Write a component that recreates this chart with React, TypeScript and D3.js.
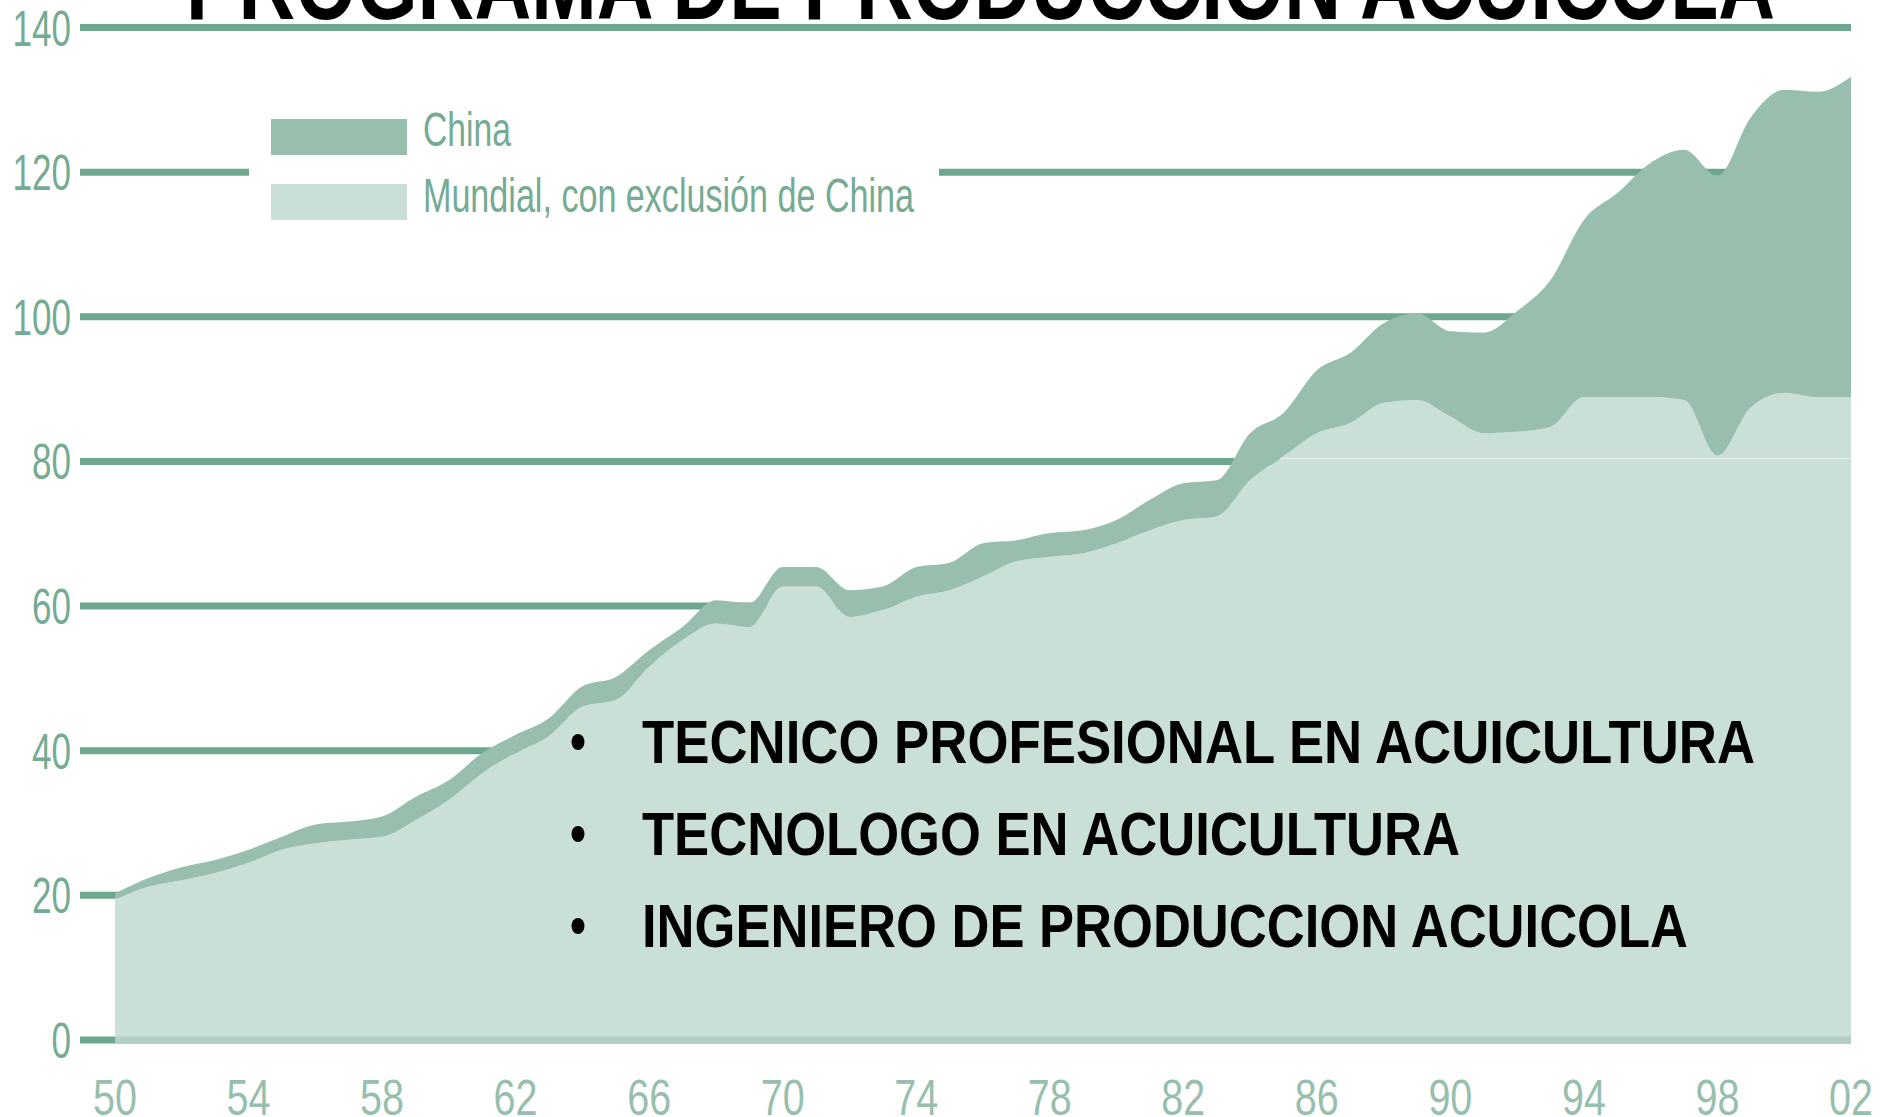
import React from 'react';
import * as d3 from 'd3';

const width = 1885, height = 1117;

// years of the series (1950 - 2002)
const years = [
  1950, 1951, 1952, 1953, 1954, 1955, 1956, 1957, 1958, 1959,
  1960, 1961, 1962, 1963, 1964, 1965, 1966, 1967, 1968, 1969,
  1970, 1971, 1972, 1973, 1974, 1975, 1976, 1977, 1978, 1979,
  1980, 1981, 1982, 1983, 1984, 1985, 1986, 1987, 1988, 1989,
  1990, 1991, 1992, 1993, 1994, 1995, 1996, 1997, 1998, 1999,
  2000, 2001, 2002
];

// world production excluding China
const mundial = [
  19.5, 21.2, 22.1, 23.1, 24.5, 26.3, 27.2, 27.7, 28.1, 30.4,
  33.2, 36.9, 39.7, 42.0, 46.1, 47.0, 51.6, 55.3, 57.6, 57.1,
  62.7, 62.7, 58.5, 59.5, 61.3, 62.2, 64.1, 66.2, 66.8, 67.3,
  68.7, 70.5, 71.9, 72.4, 77.4, 80.7, 83.9, 85.3, 88.1, 88.5,
  86.2, 83.9, 84.1, 84.8, 88.9, 88.9, 88.9, 88.5, 80.8, 87.5,
  89.5, 88.9, 88.9
];

// China, stacked on top
const china = [
  0.8, 1.2, 1.8, 1.8, 1.8, 1.8, 2.6, 2.5, 2.8, 3.2,
  2.7, 2.8, 2.5, 2.5, 2.8, 3.2, 2.3, 1.8, 3.2, 3.3,
  2.7, 2.7, 3.7, 3.2, 4.1, 3.8, 4.6, 2.9, 3.3, 3.2,
  3.2, 4.2, 5.1, 5.0, 6.5, 6.0, 8.7, 9.7, 11.0, 12.0,
  11.8, 13.9, 16.7, 20.3, 24.5, 28.2, 32.4, 34.6, 38.7, 40.1,
  41.9, 42.2, 44.3
];

const yTicks = [0, 20, 40, 60, 80, 100, 120, 140];
const xTickYears = [1950, 1954, 1958, 1962, 1966, 1970, 1974, 1978, 1982, 1986, 1990, 1994, 1998, 2002];
const xTickLabels = ['50', '54', '58', '62', '66', '70', '74', '78', '82', '86', '90', '94', '98', '02'];

const legendLabels = ['China', 'Mundial, con exclusión de China'];
const title = 'PROGRAMA DE PRODUCCION ACUICOLA';
const bullets = [
  'TECNICO PROFESIONAL EN ACUICULTURA',
  'TECNOLOGO EN ACUICULTURA',
  'INGENIERO DE PRODUCCION ACUICOLA'
];

const narrow = '"Liberation Sans Narrow", "Liberation Sans", Arial, sans-serif';
const grid = '#6da78d', darkFill = '#98bfad', lightFill = '#cadfd6';

export default function App() {
  const x = d3.scaleLinear().domain([1950, 2002]).range([115, 1851]);
  const y = d3.scaleLinear().domain([0, 140]).range([1040, 27.5]);

  const rows = years.map((yr, i) => ({ year: yr, mundial: mundial[i], china: china[i] }));
  const series = d3.stack<any>().keys(['mundial', 'china'])(rows);

  const area = d3.area<any>()
    .x(d => x(d.data.year))
    .y0(d => y(d[0]))
    .y1(d => y(d[1]))
    .curve(d3.curveMonotoneX);

  const fills = [lightFill, darkFill];
  const bulletWidths = [1113, 818, 1046];

  return (
    <svg width={width} height={height} viewBox={`0 0 ${width} ${height}`}
      style={{ position: 'absolute', left: 0, top: 0, display: 'block', background: '#fff' }}>
      <defs>
        <clipPath id="world-clip">
          <path d={area(series[0]) || ''} />
        </clipPath>
      </defs>

      {/* gridlines */}
      {yTicks.map(t => (
        <line key={t} x1={80} x2={1851} y1={y(t)} y2={y(t)} stroke={grid} strokeWidth={7} />
      ))}
      {/* gap in the 120 line for the legend */}
      <rect x={249} y={150} width={690} height={46} fill="#fff" />

      {/* stacked areas */}
      {series.map((s, i) => (
        <path key={s.key} d={area(s) || ''} fill={fills[i]} />
      ))}

      {/* axis strip at zero inside the area */}
      <rect x={x(1950)} y={y(0) - 3.5} width={x(2002) - x(1950)} height={7} fill="#b3cfc3" />
      {/* faint line of the 80 gridline seen through the light area */}
      <line x1={x(1950)} x2={x(2002)} y1={y(80) - 3} y2={y(80) - 3}
        stroke="#e4eee9" strokeWidth={1.5} clipPath="url(#world-clip)" />

      {/* y labels */}
      {yTicks.map(t => (
        <text key={t} x={71} y={y(t) + 18} textAnchor="end" fontFamily={narrow}
          fontSize={50} fill="#74ab92" textLength={String(t).length * 19.5}
          lengthAdjust="spacingAndGlyphs">{t}</text>
      ))}

      {/* x labels */}
      {xTickYears.map((yr, i) => (
        <text key={yr} x={x(yr)} y={1115} textAnchor="middle" fontFamily={narrow}
          fontSize={50} fill="#98bfad" textLength={44}
          lengthAdjust="spacingAndGlyphs">{xTickLabels[i]}</text>
      ))}

      {/* legend */}
      <rect x={271} y={119} width={136} height={36} fill={darkFill} />
      <rect x={271} y={184} width={136} height={36} fill={lightFill} />
      <text x={423} y={146} fontFamily={narrow} fontSize={48} fill="#74ab92"
        textLength={88} lengthAdjust="spacingAndGlyphs">{legendLabels[0]}</text>
      <text x={423} y={212} fontFamily={narrow} fontSize={48} fill="#74ab92"
        textLength={491} lengthAdjust="spacingAndGlyphs">{legendLabels[1]}</text>

      {/* title, cut off at the top */}
      <text x={186} y={19} fontFamily={narrow} fontWeight="bold" fontSize={100} fill="#000"
        textLength={1589} lengthAdjust="spacingAndGlyphs">{title}</text>

      {/* bullet list */}
      {bullets.map((b, i) => {
        const base = 763 + i * 92;
        return (
          <g key={b}>
            <ellipse cx={578} cy={base - 21} rx={6.5} ry={8} fill="#000" />
            <text x={642} y={base} fontFamily={narrow} fontWeight="bold" fontSize={62}
              fill="#000" textLength={bulletWidths[i]} lengthAdjust="spacingAndGlyphs">{b}</text>
          </g>
        );
      })}
    </svg>
  );
}
